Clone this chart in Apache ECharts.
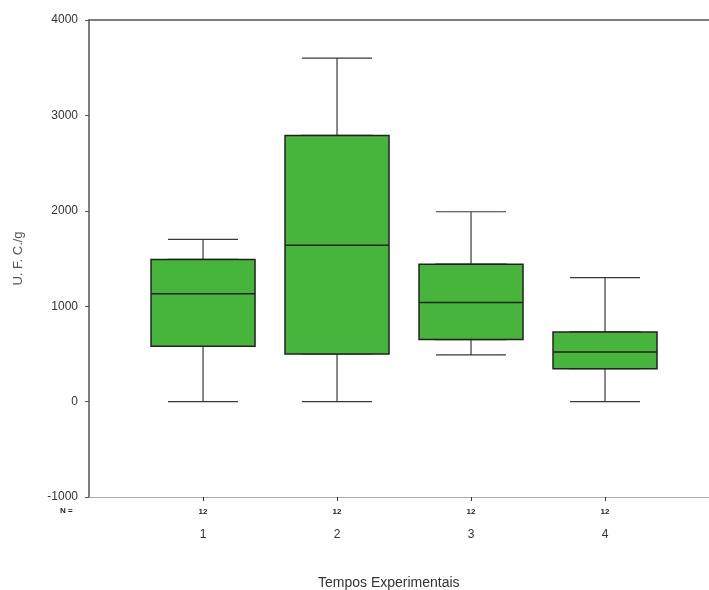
<!DOCTYPE html>
<html>
<head>
<meta charset="utf-8">
<script src="https://cdn.jsdelivr.net/npm/echarts@6/dist/echarts.min.js"></script>
<style>
  html, body { margin: 0; padding: 0; background: #fff; }
  #chart { width: 709px; height: 590px; }
</style>
</head>
<body>
<div id="chart"></div>
<script>
// Experimental times and the sample size of each group
const groups = [1, 2, 3, 4];
const counts = [12, 12, 12, 12];

// Five-number summaries per group (U.F.C./g)
const minimums = [0, 0, 490, 0];
const lowerQuartiles = [580, 500, 650, 345];
const medians = [1130, 1640, 1040, 520];
const upperQuartiles = [1490, 2790, 1440, 730];
const maximums = [1700, 3600, 1990, 1300];

// y-axis tick values
const yTicks = [-1000, 0, 1000, 2000, 3000, 4000];

// Whiskers: full five-number summary, drawn with narrow caps
const whiskerData = groups.map((g, i) =>
  [g, minimums[i], lowerQuartiles[i], medians[i], upperQuartiles[i], maximums[i]]);
// Boxes: quartiles only, drawn wide on top of the whiskers
const boxData = groups.map((g, i) =>
  [g, lowerQuartiles[i], lowerQuartiles[i], medians[i], upperQuartiles[i], upperQuartiles[i]]);

const countLookup = {};
groups.forEach((g, i) => { countLookup[g] = counts[i]; });

const chart = echarts.init(document.getElementById('chart'), null, { renderer: 'canvas' });

const xCommon = {
  type: 'value',
  min: 0.149,
  max: 4.776,
  splitLine: { show: false }
};

chart.setOption({
  animation: false,
  backgroundColor: '#ffffff',
  title: [
    {
      text: 'N =',
      left: 55, top: 502,
      textStyle: { fontSize: 8, fontWeight: 'bold', color: '#222', fontFamily: 'Liberation Sans' }
    },
    {
      text: 'Tempos Experimentais',
      left: 313, top: 571,
      textStyle: { fontSize: 14, fontWeight: 'normal', color: '#333', fontFamily: 'Liberation Sans' }
    }
  ],
  grid: { left: 89, right: 0, top: 20, bottom: 93 },
  xAxis: [
    Object.assign({}, xCommon, {
      position: 'bottom',
      axisLine: { show: true, onZero: false, lineStyle: { color: '#aaaaaa', width: 1 } },
      axisTick: {
        show: true, customValues: groups, inside: false, length: 4,
        lineStyle: { color: '#333' }
      },
      axisLabel: {
        customValues: groups,
        margin: 11,
        formatter: v => '{n|' + countLookup[v] + '}\n{c|' + v + '}',
        rich: {
          n: { fontSize: 8, fontWeight: 'bold', color: '#222', fontFamily: 'Liberation Sans', lineHeight: 20, verticalAlign: 'top' },
          c: { fontSize: 12, color: '#333', fontFamily: 'Liberation Sans', lineHeight: 14 }
        }
      }
    }),
    Object.assign({}, xCommon, {
      position: 'top',
      axisLine: { show: true, onZero: false, lineStyle: { color: '#555', width: 1.5 } },
      axisTick: { show: false },
      axisLabel: { show: false }
    })
  ],
  yAxis: {
    type: 'value',
    min: -1000,
    max: 4000,
    interval: 1000,
    name: 'U. F. C./g',
    nameLocation: 'middle',
    nameGap: 64,
    nameRotate: 90,
    nameTextStyle: { fontSize: 13, color: '#555', fontFamily: 'Liberation Sans' },
    axisLine: { show: true, onZero: false, lineStyle: { color: '#555', width: 1.5 } },
    axisTick: { show: true, length: 4, lineStyle: { color: '#555' } },
    axisLabel: {
      fontSize: 12, color: '#333', fontFamily: 'Liberation Sans', margin: 11,
      formatter: v => (yTicks.indexOf(v) >= 0 ? String(v) : '')
    },
    splitLine: { show: false }
  },
  series: [
    {
      type: 'boxplot',
      xAxisIndex: 0,
      boxWidth: [70, 70],
      data: whiskerData,
      encode: { x: 0, y: [1, 2, 3, 4, 5] },
      itemStyle: { color: 'rgba(0,0,0,0)', borderColor: '#3d3540', borderWidth: 1.2 },
      silent: true
    },
    {
      type: 'boxplot',
      xAxisIndex: 1,
      boxWidth: [104, 104],
      data: boxData,
      encode: { x: 0, y: [1, 2, 3, 4, 5] },
      itemStyle: { color: '#47b43b', borderColor: '#222222', borderWidth: 1.5 },
      z: 3,
      silent: true
    }
  ]
});
</script>
</body>
</html>
